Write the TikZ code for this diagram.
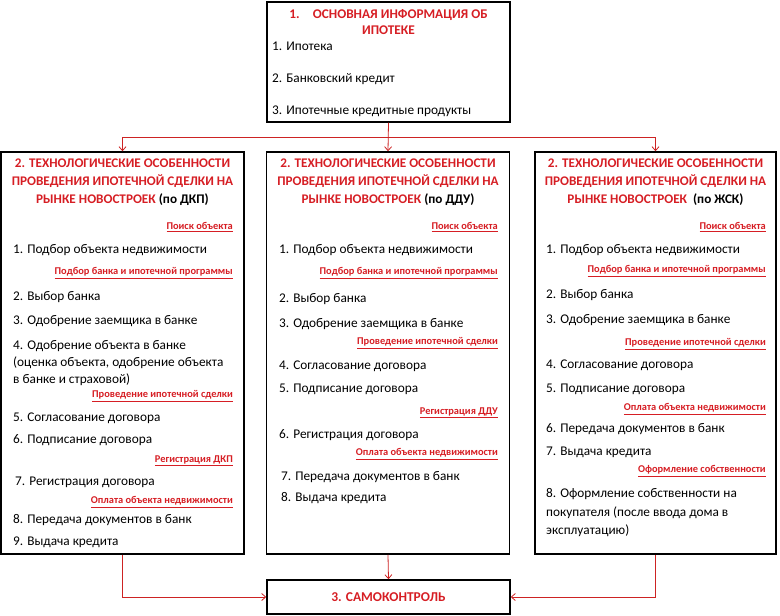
\documentclass[tikz,border=0pt]{standalone}
\usepackage{fontspec}
\setmainfont{Carlito}
\usetikzlibrary{arrows.meta, positioning, calc}
\definecolor{hdred}{RGB}{214,30,36}
\definecolor{lnred}{RGB}{205,35,35}

\begin{document}
\begin{tikzpicture}[x=1pt, y=-1pt, font=\fontsize{13.3}{15}\selectfont,
    >={Straight Barb[length=4pt,width=7pt]},
    box/.style={rectangle, draw, line width=1.5pt, minimum width=243pt, inner sep=0},
    head/.style={anchor=north, align=center, inner sep=0, text=hdred, font=\bfseries\fontsize{13.2}{18}\selectfont},
    item/.style={anchor=west, inner sep=0},
    tag/.style={anchor=east, inner sep=0, text=hdred, font=\bfseries\fontsize{10.4}{12}\selectfont},
    arr/.style={->, draw=lnred, line width=0.8pt}]
\useasboundingbox (0,0) rectangle (780,616);

\node[box, minimum height=120pt] (top)  at (388.5,62)  {};
\node[box, minimum height=402pt] (dkp)  at (122.5,353) {};
\node[box, minimum height=402pt] (ddu)  at (388,353)   {};
\node[box, minimum height=402pt, minimum width=241pt] (zhsk) at (655.5,353) {};
\node[box, minimum height=34pt, text=hdred, font=\bfseries\fontsize{13.5}{15}\selectfont] (self) at (388.5,597) {3. САМОКОНТРОЛЬ};

% top block
\node[head, font=\bfseries\fontsize{13.3}{16.5}\selectfont] (top-h) at (388.5,9) {1.\quad ОСНОВНАЯ ИНФОРМАЦИЯ ОБ\\ИПОТЕКЕ};
\foreach \y/\t in {46/{1. Ипотека}, 79/{2. Банковский кредит}, 111/{3. Ипотечные кредитные продукты}}
  \node[item] (top-\y) at (272,\y) {\t};

% headings
\node[head] (dkp-h) at (122.5,159) {2. ТЕХНОЛОГИЧЕСКИЕ ОСОБЕННОСТИ\\ПРОВЕДЕНИЯ ИПОТЕЧНОЙ СДЕЛКИ НА\\РЫНКЕ НОВОСТРОЕК \textcolor{black}{(по ДКП)}};
\node[head] (ddu-h) at (388,159) {2. ТЕХНОЛОГИЧЕСКИЕ ОСОБЕННОСТИ\\ПРОВЕДЕНИЯ ИПОТЕЧНОЙ СДЕЛКИ НА\\РЫНКЕ НОВОСТРОЕК \textcolor{black}{(по ДДУ)}};
\node[head] (zhsk-h) at (655.5,159) {2. ТЕХНОЛОГИЧЕСКИЕ ОСОБЕННОСТИ\\ПРОВЕДЕНИЯ ИПОТЕЧНОЙ СДЕЛКИ НА\\РЫНКЕ НОВОСТРОЕК\ \ \textcolor{black}{(по ЖСК)}};

% ДКП
\foreach \y/\t in {227/{Поиск объекта}, 273/{Подбор банка и ипотечной программы}, 396/{Проведение ипотечной сделки},
    461/{Регистрация ДКП}, 502/{Оплата объекта недвижимости}}
  \node[tag] (dkp-t\y) at (233,\y) {\underline{\t}};
\foreach \x/\y/\t in {13/250/{1. Подбор объекта недвижимости}, 13/297/{2. Выбор банка}, 13/321/{3. Одобрение заемщика в банке},
    13/346/{4. Одобрение объекта в банке}, 13/363/{(оценка объекта, одобрение объекта}, 13/380/{в банке и страховой)},
    13/418/{5. Согласование договора}, 13/440/{6. Подписание договора}, 15/482/{7. Регистрация договора},
    13/520/{8. Передача документов в банк}, 13/542/{9. Выдача кредита}}
  \node[item] (dkp-\y) at (\x,\y) {\t};

% ДДУ
\foreach \y/\t in {227/{Поиск объекта}, 273/{Подбор банка и ипотечной программы}, 343/{Проведение ипотечной сделки},
    413/{Регистрация ДДУ}, 454/{Оплата объекта недвижимости}}
  \node[tag] (ddu-t\y) at (498,\y) {\underline{\t}};
\foreach \x/\y/\t in {279/250/{1. Подбор объекта недвижимости}, 279/299/{2. Выбор банка}, 279/324/{3. Одобрение заемщика в банке},
    279/366/{4. Согласование договора}, 279/389/{5. Подписание договора}, 279/435/{6. Регистрация договора},
    281/477/{7. Передача документов в банк}, 281/498/{8. Выдача кредита}}
  \node[item] (ddu-\y) at (\x,\y) {\t};

% ЖСК
\foreach \y/\t in {227/{Поиск объекта}, 271/{Подбор банка и ипотечной программы}, 344/{Проведение ипотечной сделки},
    409/{Оплата объекта недвижимости}, 471/{Оформление собственности}}
  \node[tag] (zhsk-t\y) at (766,\y) {\underline{\t}};
\foreach \y/\t in {250/{1. Подбор объекта недвижимости}, 295/{2. Выбор банка}, 320/{3. Одобрение заемщика в банке},
    365/{4. Согласование договора}, 389/{5. Подписание договора}, 429/{6. Передача документов в банк},
    452/{7. Выдача кредита}, 494/{8. Оформление собственности на}, 513/{покупателя (после ввода дома в},
    531/{эксплуатацию)}}
  \node[item] (zhsk-\y) at (546,\y) {\t};

% connectors
\coordinate (fork) at ($(top.south)+(0,15)$);
\draw[arr] (top.south) -- (ddu.north);
\draw[arr] (fork) -| (dkp.north);
\draw[arr] (fork) -| (zhsk.north);
\draw[arr] (dkp.south) |- (self.west);
\draw[arr] (ddu.south) -- (self.north);
\draw[arr] (zhsk.south) |- (self.east);
\end{tikzpicture}
\end{document}
